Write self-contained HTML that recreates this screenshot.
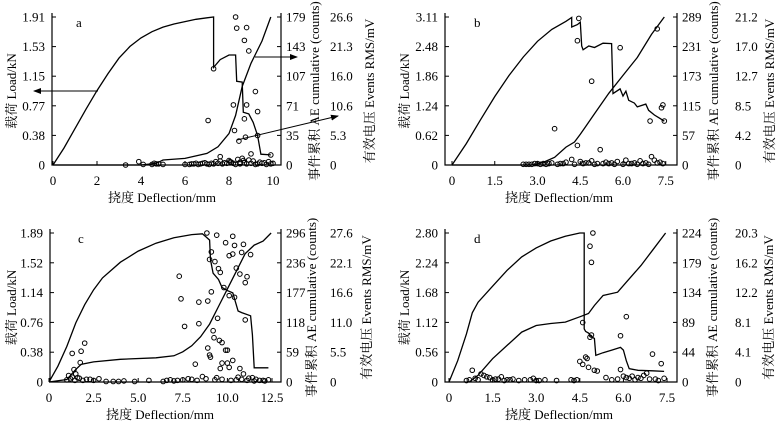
<!DOCTYPE html>
<html><head><meta charset="utf-8">
<style>
html,body{margin:0;padding:0;background:#fff;}
svg{display:block;font-family:"Liberation Serif","Noto Serif CJK SC",serif;}
</style></head>
<body>
<svg id="chart" width="784" height="425" viewBox="0 0 784 425" xmlns="http://www.w3.org/2000/svg"></svg>
<script>
// ---- Panel a data ----
const aLoadX=[0,0.5,1,1.5,2,2.5,3,3.5,4,4.5,5,5.5,6,6.5,7,7.3,7.3,7.6,8.0,8.3,8.35,8.6,8.65,8.9,9.1,9.3,9.45,9.9];
const aLoadY=[0,0.22,0.47,0.72,0.96,1.18,1.38,1.53,1.64,1.72,1.78,1.82,1.85,1.88,1.9,1.91,1.26,1.36,1.42,1.42,1.08,1.07,0.68,0.66,0.55,0.38,0.14,0.13];
const aCumX=[0,4,4.7,5,6,7,7.5,8,8.3,8.6,9,9.5,9.9];
const aCumY=[0,0,2,6,8,14,22,38,60,95,123,150,179];
const aRmsX=[8.3,8.35,8.8,8.7,8.9,7.3,9.2,8.2,8.8,9.3,7.05,8.7,8.25,9.3,8.75,8.45,9.9,9.0,7.6,3.9,4.1,4.6,4.8,5.0,3.3,6.0,6.3,6.5,6.7,6.9,7.2,7.4,7.8,8.0,8.1,8.4,8.6,9.1,9.4,9.6,9.8,10.0,8.9,7.9,8.5,4.5,4.7,6.2,6.4,6.6,6.8,7.0,7.1,7.3,7.5,7.7,8.2,8.3,8.5,8.7,8.8,9.0,9.2,9.3,9.5,9.7,9.9,7.6,8.05,8.65];
const aRmsY=[26.6,24.6,24.7,22.4,20.5,17.3,13.2,10.8,10.8,9.6,8.0,8.3,6.2,5.3,5.0,4.3,1.8,2.0,1.5,0.6,0.1,0.3,0.2,0.1,0,0.1,0.2,0.3,0.2,0.4,0.3,0.6,0.4,0.8,0.5,1.0,1.2,0.7,0.5,0.4,0.6,0.3,0.9,0.3,0.5,0.1,0.2,0.1,0.2,0.1,0.3,0.2,0.1,0.2,0.3,0.2,0.3,0.1,0.2,0.4,0.2,0.3,0.1,0.2,0.3,0.1,0.2,0.7,0.6,0.8];
// ---- Panel b data ----
const bLoadX=[0,0.5,1,1.5,2,2.5,3,3.5,4,4.2,4.2,4.4,4.5,4.55,4.6,4.8,5,5.3,5.6,5.65,5.9,6.0,6.1,6.2,6.4,6.5,6.8,6.9,7.1,7.3,7.45];
const bLoadY=[0,0.45,0.95,1.44,1.88,2.27,2.6,2.85,3.02,3.1,2.9,2.95,3.0,2.5,2.42,2.5,2.47,2.56,2.55,1.5,1.6,1.45,1.55,1.36,1.3,1.22,1.28,1.15,1.05,0.98,0.92];
const bCumX=[0,2.8,3.2,3.6,4,4.3,4.5,5,5.5,6,6.5,7,7.45];
const bCumY=[0,0,5,15,35,45,60,100,140,175,210,255,289];
const bRmsX=[4.45,4.4,7.2,5.9,4.9,7.4,7.35,6.95,7.45,3.6,4.4,5.2,7.0,7.1,4.2,2.5,2.8,3.0,3.3,3.5,3.8,4.0,4.5,4.7,4.9,5.1,5.4,5.6,5.8,6.1,6.3,6.6,6.8,7.3,3.2,4.8,5.5,6.4,2.6,2.7,2.9,3.1,3.4,3.7,3.9,4.3,4.6,5.0,5.3,5.7,6.0,6.2,6.5,6.7,6.9,7.2,7.4];
const bRmsY=[21.0,17.8,19.5,16.8,12.0,8.6,8.2,6.3,6.3,5.2,2.8,2.2,1.2,0.7,0.8,0.1,0.1,0.2,0.1,0.3,0.2,0.4,0.5,0.3,0.6,0.2,0.4,0.3,0.5,0.7,0.2,0.6,0.3,0.4,0.2,0.3,0.2,0.3,0.1,0.1,0.2,0.1,0.2,0.1,0.2,0.1,0.2,0.1,0.2,0.1,0.1,0.2,0.1,0.2,0.1,0.3,0.2];
// ---- Panel c data ----
const cLoadX=[0,0.5,1,1.5,2,2.5,3,4,5,6,7,8,8.6,8.8,9.0,9.05,9.2,9.5,9.7,10,10.3,10.6,10.8,11.3,11.4,11.5,12.3];
const cLoadY=[0,0.2,0.45,0.75,0.98,1.17,1.32,1.52,1.66,1.76,1.83,1.87,1.88,1.84,1.8,1.55,1.38,1.30,1.2,1.16,1.13,0.9,0.88,0.84,0.6,0.18,0.18];
const cCumX=[0,1,1.5,1.8,2.5,4,6,7,7.5,8,8.5,9,9.5,10,10.5,11,11.5,12,12.45];
const cCumY=[0,5,25,35,40,45,48,52,60,72,90,115,150,185,220,255,272,280,296];
const cRmsX=[8.85,9.4,10.3,9.9,10.4,10.9,9.0,9.1,9.3,10.1,10.3,11.3,10.8,10.5,10.7,9.5,9.6,11.1,11.0,7.3,9.8,9.1,10.1,10.4,7.4,8.4,8.9,9.45,8.4,11.0,7.6,9.2,9.25,9.7,9.55,8.9,9.0,9.05,9.9,10.0,10.3,9.7,10.0,8.2,9.6,10.1,10.7,1.3,1.8,2.0,1.75,1.4,1.5,1.1,1.2,1.6,2.3,2.8,3.2,3.6,4.2,4.8,5.6,6.4,6.8,7.2,7.8,8.6,9.4,10.6,11.2,11.6,12.0,12.3,10.9,11.4,1.0,1.3,1.45,1.7,1.9,2.1,2.5,3.9,6.6,7.0,7.5,8.0,8.3,8.8,9.3,9.7,10.2,10.5,10.8,11.1,11.5,11.8,12.1];
const cRmsY=[27.6,27.2,27.0,25.8,25.3,25.5,22.7,24.1,22.3,23.4,23.7,23.6,24.0,21.1,20.0,21.0,20.3,19.5,18.4,19.6,17.5,16.7,16.0,15.7,15.4,14.8,15.0,11.8,10.8,11.5,10.3,9.5,8.2,7.3,7.7,6.3,5.0,4.6,5.9,5.9,4.0,3.5,3.5,3.3,2.5,2.7,2.5,5.3,5.7,7.2,3.6,2.3,1.5,1.2,0.6,0.8,0.5,0.6,0.1,0.1,0.2,0.1,0.3,0.1,0.4,0.3,0.6,1.0,0.8,0.9,0.7,0.5,0.3,0.4,1.5,0.8,0.4,0.9,0.3,0.7,0.3,0.5,0.3,0.1,0.3,0.2,0.4,0.5,0.3,0.6,0.4,0.5,0.3,0.4,0.5,0.3,0.2,0.3,0.2];
// ---- Panel d data ----
const dLoadX=[0,0.3,0.6,0.8,1,1.5,2,2.5,3,3.5,4,4.5,4.65,4.65,4.7,4.8,4.9,5.0,5.05,5.3,5.6,5.9,6.0,6.1,6.2,6.5,7.0,7.4];
const dLoadY=[0,0.4,0.9,1.3,1.5,1.8,2.1,2.35,2.52,2.65,2.74,2.8,2.8,1.0,0.95,0.92,0.85,0.82,0.5,0.55,0.6,0.65,0.6,0.4,0.25,0.22,0.21,0.2];
const dCumX=[0.7,1,1.5,2,2.5,3,3.5,4,4.5,4.8,5,5.3,5.8,6.1,6.6,7,7.45];
const dCumY=[0,10,35,55,75,85,88,90,98,103,115,130,135,150,175,198,224];
const dRmsX=[4.95,4.85,4.9,6.1,4.6,5.9,4.85,4.9,7.0,4.5,4.75,4.7,7.3,4.6,4.8,5.0,5.1,5.9,0.8,1.1,1.2,6.3,6.8,0.6,1.0,1.4,1.8,2.2,2.6,2.9,3.3,3.7,4.2,5.4,5.6,6.0,6.2,6.5,6.7,7.1,7.4,1.6,2.0,3.0,0.7,0.9,1.3,1.5,1.7,1.9,2.1,2.4,2.8,3.1,4.3,4.4,5.8,6.1,6.4,6.6,6.9,7.2];
const dRmsY=[20.3,18.5,16.3,8.9,8.1,6.3,6.1,6.4,3.8,2.8,3.2,3.4,2.5,2.4,2.0,1.6,1.5,1.7,1.6,1.1,0.9,0.8,1.2,0.2,0.3,0.6,0.7,0.4,0.3,0.5,0.3,0.2,0.3,0.6,0.3,0.8,0.5,0.6,0.9,0.4,0.5,0.4,0.3,0.2,0.3,0.5,0.7,0.3,0.4,0.2,0.3,0.2,0.3,0.2,0.2,0.3,0.4,0.6,0.3,0.5,0.4,0.2];

const aXTicks=["0","2","4","6","8","10"], aXVals=[0,2,4,6,8,10];
const aLoadTicks=["0","0.38","0.77","1.15","1.53","1.91"], aCumTicks=["0","35","71","107","143","179"], aRmsTicks=["0","5.3","10.6","16.0","21.3","26.6"];
const bXTicks=["0","1.5","3.0","4.5","6.0","7.5"], bXVals=[0,1.5,3,4.5,6,7.5];
const bLoadTicks=["0","0.62","1.24","1.86","2.48","3.11"], bCumTicks=["0","57","115","173","231","289"], bRmsTicks=["0","4.2","8.5","12.7","17.0","21.2"];
const cXTicks=["0","2.5","5.0","7.5","10.0","12.5"], cXVals=[0,2.5,5,7.5,10,12.5];
const cLoadTicks=["0","0.38","0.76","1.14","1.52","1.89"], cCumTicks=["0","59","118","177","236","296"], cRmsTicks=["0","5.5","11.0","16.6","22.1","27.6"];
const dXTicks=["0","1.5","3.0","4.5","6.0","7.5"], dXVals=[0,1.5,3,4.5,6,7.5];
const dLoadTicks=["0","0.56","1.12","1.68","2.24","2.80"], dCumTicks=["0","44","89","134","179","224"], dRmsTicks=["0","4.1","8.1","12.2","16.2","20.3"];

const NS="http://www.w3.org/2000/svg";
const svg=document.getElementById('chart');
function mk(tag,attrs,parent){const e=document.createElementNS(NS,tag);for(const k in attrs)e.setAttribute(k,attrs[k]);(parent||svg).appendChild(e);return e;}
function mixed(t,cjk,lat){
  const s1=mk('tspan',{'font-family':'"Noto Serif CJK SC", serif'},t);s1.textContent=cjk;
  const s2=mk('tspan',{'font-family':'"Liberation Serif", serif'},t);s2.textContent=' '+lat;
}

function panel(p){
  const g=mk('g',{});
  
  
  const x0=p.x0, xs=p.xs, L=p.left, R=p.right, T=p.top, B=p.bottom;
  const sx=v=>x0+v*xs;
  const ys=(v,max)=>B-(v/max)*(B-T);
  const lmax=parseFloat(p.loadTicks[5]), cmax=parseFloat(p.cumTicks[5]), rmax=parseFloat(p.rmsTicks[5]);
  const ax=mk('path',{d:`M${L},${T-4}V${B}H${R}V${T-4}`,fill:'none',stroke:'#000','stroke-width':1.2},g);
  
  
  for(let i=0;i<6;i++){
    const y=B-i*(B-T)/5;
    mk('line',{x1:L,x2:L+4,y1:y,y2:y,stroke:'#000'},g);
    mk('line',{x1:R,x2:R-4,y1:y,y2:y,stroke:'#000'},g);
    const t1=mk('text',{x:L-7,y:y+4.5,'text-anchor':'end','font-size':13},g);t1.textContent=p.loadTicks[i];
    
    
    const t2=mk('text',{x:R+5,y:y+4.5,'font-size':13},g);t2.textContent=p.cumTicks[i];
    
    
    const t3=mk('text',{x:R+p.rmsOff,y:y+4.5,'font-size':13},g);t3.textContent=p.rmsTicks[i];
    
    
  }
  p.xVals.forEach((v,i)=>{
    const x=sx(v);
    mk('line',{x1:x,x2:x,y1:B,y2:B-4,stroke:'#000'},g);
    const t=mk('text',{x:x,y:B+20,'text-anchor':'middle','font-size':13},g);t.textContent=p.xTicks[i];
    
    
  });
  const xt=mk('text',{x:p.xTitleX,y:B+37,'text-anchor':'middle','font-size':13},g);mixed(xt,'挠度','Deflection/mm');
  
  
  const my=(T+B)/2;
  const yt=mk('text',{x:0,y:0,'text-anchor':'middle','font-size':13,transform:`translate(${p.t1x},${my}) rotate(-90)`},g);mixed(yt,'载荷','Load/kN');
  
  
  const ct=mk('text',{x:0,y:0,'text-anchor':'middle','font-size':13,transform:`translate(${p.t2x},${my}) rotate(-90)`},g);mixed(ct,'事件累积','AE cumulative (counts)');
  
  
  const rt=mk('text',{x:0,y:0,'text-anchor':'middle','font-size':13,transform:`translate(${p.t3x},${my}) rotate(-90)`},g);mixed(rt,'有效电压','Events RMS/mV');
  
  
  const pl=mk('text',{x:p.labX,y:T+10,'font-size':13},g);pl.textContent=p.id;
  
  
  const lp=mk('path',{d:p.loadX.map((v,i)=>(i?'L':'M')+sx(v).toFixed(1)+','+ys(p.loadY[i],lmax).toFixed(1)).join(''),fill:'none',stroke:'#000','stroke-width':1.3},g);
  
  
  const cp=mk('path',{d:p.cumX.map((v,i)=>(i?'L':'M')+sx(v).toFixed(1)+','+ys(p.cumY[i],cmax).toFixed(1)).join(''),fill:'none',stroke:'#000','stroke-width':1.3},g);
  
  
  p.rmsX.forEach((v,i)=>{
    const c=mk('circle',{cx:sx(v),cy:ys(p.rmsY[i],rmax),r:2.3,fill:'none',stroke:'#000','stroke-width':1},g);
    
    
  });
}
panel({id:'a',x0:53,xs:22,left:52,right:281,top:17,bottom:165,xTicks:aXTicks,xVals:aXVals,loadTicks:aLoadTicks,cumTicks:aCumTicks,rmsTicks:aRmsTicks,loadX:aLoadX,loadY:aLoadY,cumX:aCumX,cumY:aCumY,rmsX:aRmsX,rmsY:aRmsY,rmsOff:49,xTitleX:162,t1x:16,t2x:319,t3x:374,labX:76});
panel({id:'b',x0:452,xs:28.5,left:445,right:677,top:17,bottom:165,xTicks:bXTicks,xVals:bXVals,loadTicks:bLoadTicks,cumTicks:bCumTicks,rmsTicks:bRmsTicks,loadX:bLoadX,loadY:bLoadY,cumX:bCumX,cumY:bCumY,rmsX:bRmsX,rmsY:bRmsY,rmsOff:58,xTitleX:559,t1x:409,t2x:718,t3x:774,labX:474});
panel({id:'c',x0:49,xs:17.84,left:50,right:281,top:233,bottom:382,xTicks:cXTicks,xVals:cXVals,loadTicks:cLoadTicks,cumTicks:cCumTicks,rmsTicks:cRmsTicks,loadX:cLoadX,loadY:cLoadY,cumX:cCumX,cumY:cCumY,rmsX:cRmsX,rmsY:cRmsY,rmsOff:49,xTitleX:160,t1x:16,t2x:316,t3x:371,labX:78});
panel({id:'d',x0:449,xs:29.07,left:445,right:677,top:233,bottom:382,xTicks:dXTicks,xVals:dXVals,loadTicks:dLoadTicks,cumTicks:dCumTicks,rmsTicks:dRmsTicks,loadX:dLoadX,loadY:dLoadY,cumX:dCumX,cumY:dCumY,rmsX:dRmsX,rmsY:dRmsY,rmsOff:58,xTitleX:559,t1x:409,t2x:717,t3x:773,labX:474});

mk('defs',{}).innerHTML='<marker id="ah" markerWidth="8" markerHeight="6" refX="7" refY="3" orient="auto"><path d="M0,0L8,3L0,6z" fill="#000"/></marker>';
[[98,91,34,91,'arrow-to-load-axis'],[255,57,297,57,'arrow-to-cumulative-axis'],[237,140,338,116,'arrow-to-rms-axis']].forEach(a=>{
  const l=mk('line',{x1:a[0],y1:a[1],x2:a[2],y2:a[3],stroke:'#000','stroke-width':1,'marker-end':'url(#ah)'});
  
  
});
</script>
</body></html>
